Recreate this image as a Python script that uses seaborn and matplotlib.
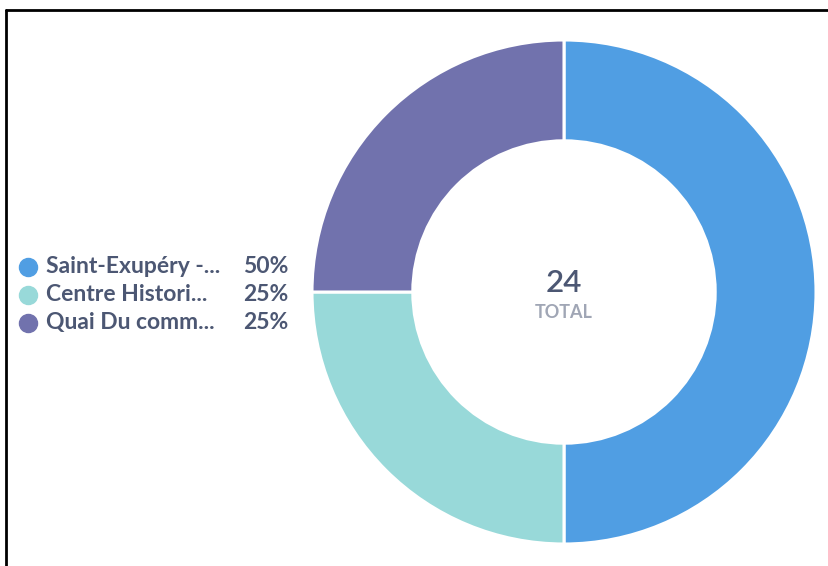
import numpy as np
import seaborn as sns
import matplotlib.pyplot as plt
from matplotlib.lines import Line2D

sns.set_theme(style='white')
plt.rcParams['font.family'] = ['Lato', 'DejaVu Sans']

labels = ["Saint-Exupéry -...", "Centre Histori...", "Quai Du comm..."]
counts = [12, 6, 6]
colors = ["#509EE3", "#98D9D9", "#7172AD"]
total = sum(counts)
pcts = [round(c / total * 100) for c in counts]

W, H = 829, 566
fig = plt.figure(figsize=(W / 100, H / 100), dpi=100)
fig.patch.set_facecolor('white')

# donut
cx, cy, r = 564, 292, 252
ax = fig.add_axes([(cx - r) / W, 1 - (cy + r) / H, 2 * r / W, 2 * r / H])
ax.pie(counts, colors=colors, startangle=90, counterclock=False,
       radius=1.0, wedgeprops=dict(width=0.4, edgecolor='white', linewidth=2.2))
ax.set_xlim(-1, 1)
ax.set_ylim(-1, 1)
ax.set_aspect('equal')
ax.axis('off')
ax.text(0, 0.035, str(total), ha='center', va='center', fontsize=22.5,
        fontweight='semibold', color='#4C5773')
ax.text(0, -0.083, "TOTAL", ha='center', va='center', fontsize=13,
        fontweight='bold', color='#A0A6B5')

# legend
for i, (lab, p, c) in enumerate(zip(labels, pcts, colors)):
    y = 1 - (266.5 + 28 * i) / H
    fig.add_artist(Line2D([28 / W], [y], marker='o', markersize=13,
                          color=c, linestyle='none'))
    fig.text(46 / W, y, lab, ha='left', va='center', fontsize=16.5,
             fontweight='bold', color='#4C5773')
    fig.text(288 / W, y, f"{p}%", ha='right', va='center', fontsize=16.5,
             fontweight='bold', color='#4C5773')

# screenshot frame
fig.add_artist(Line2D([6 / W, 1], [1 - 10 / H, 1 - 10 / H], color='black', linewidth=2))
fig.add_artist(Line2D([6 / W, 6 / W], [0, 1 - 10 / H], color='black', linewidth=2))

fig.savefig("out.png", dpi=100)
